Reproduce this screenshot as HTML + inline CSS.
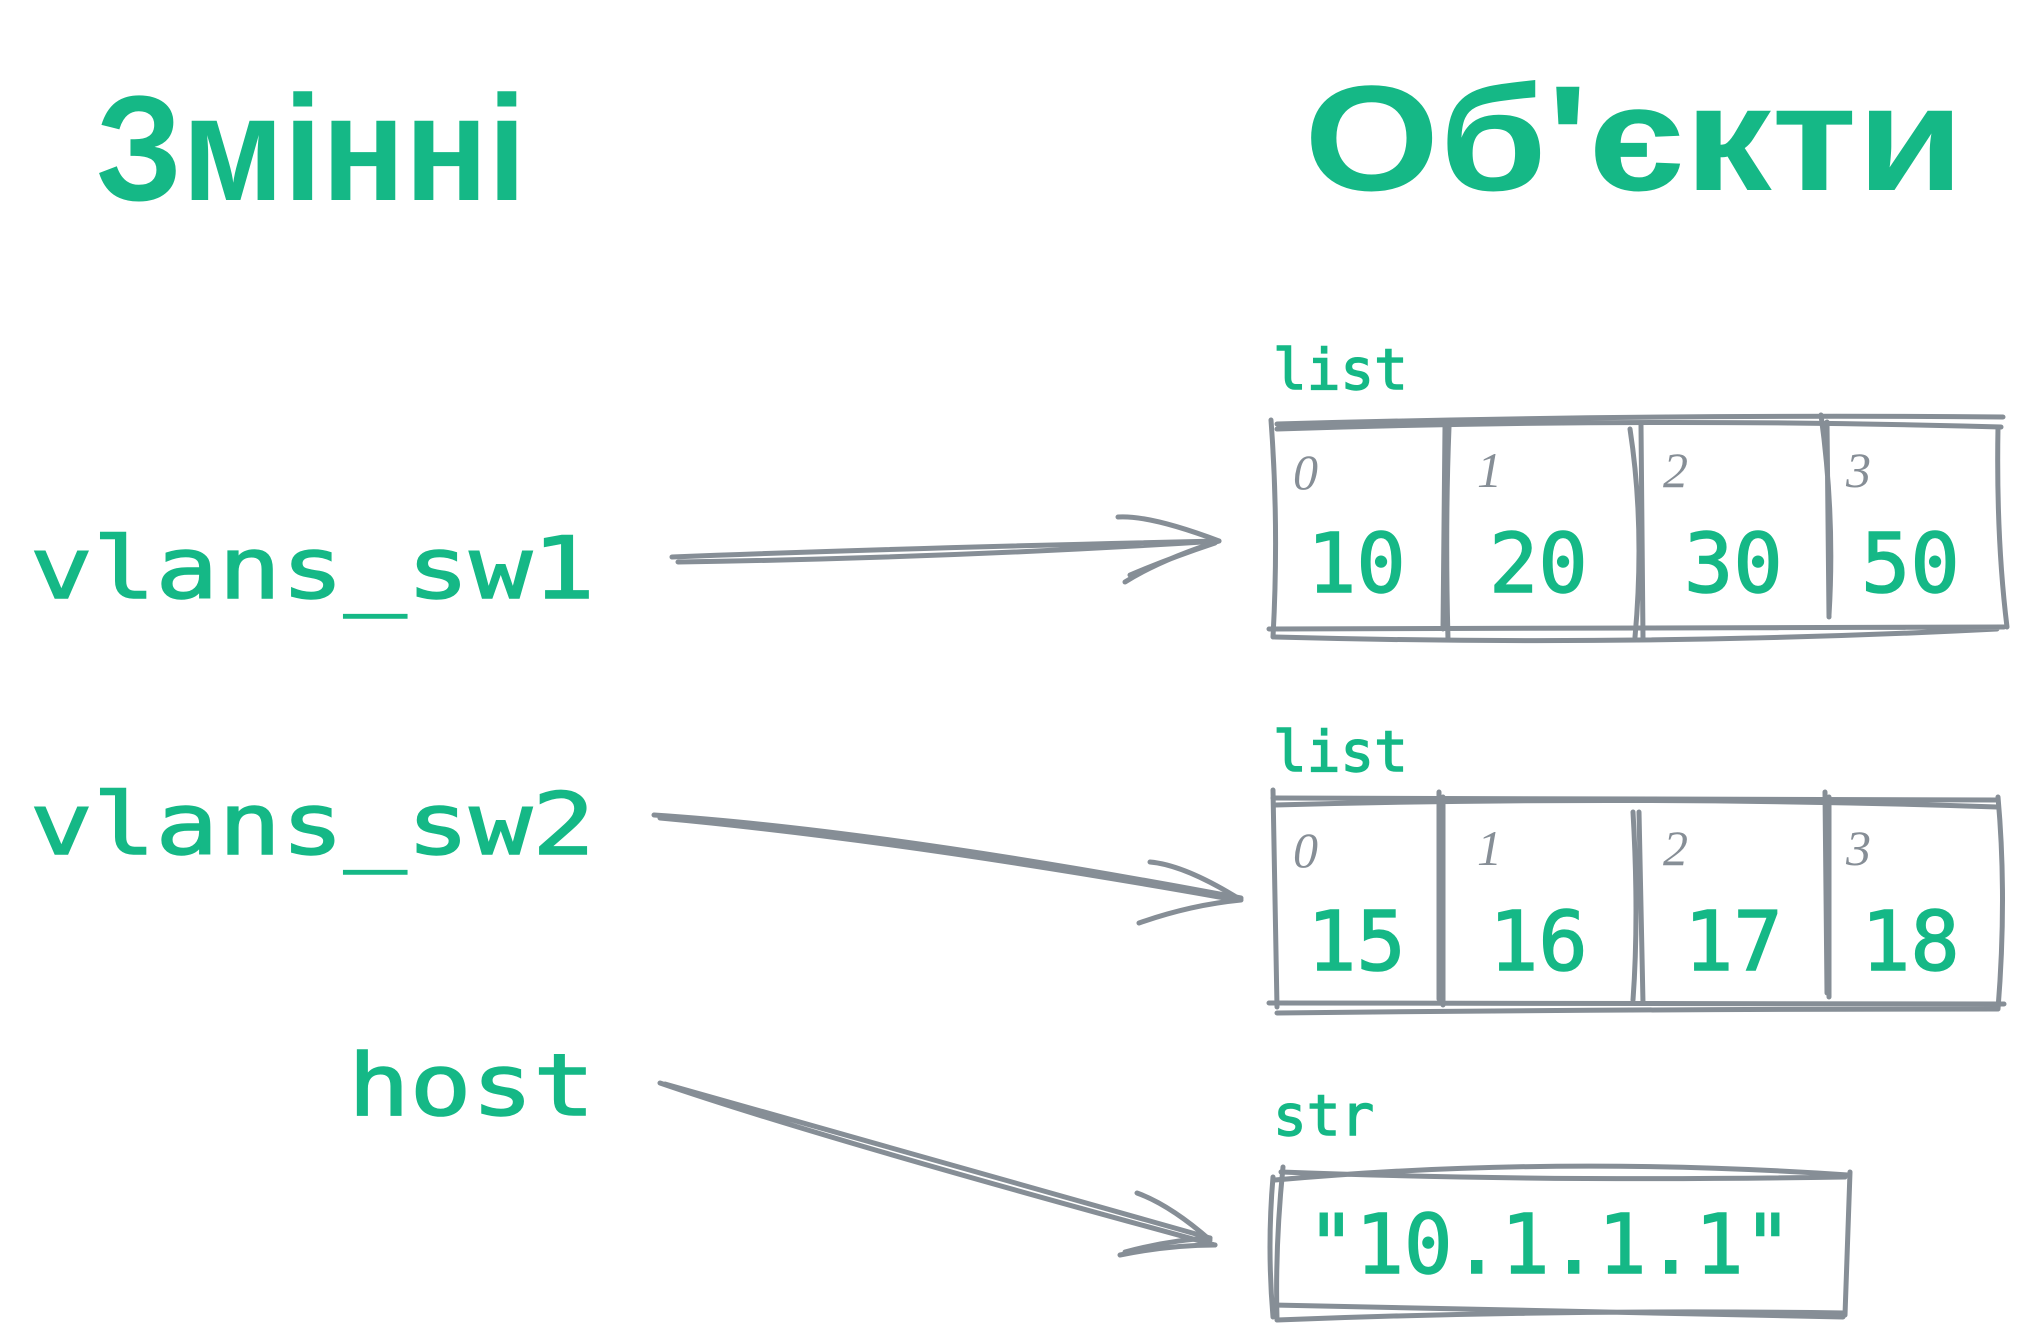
<!DOCTYPE html>
<html><head><meta charset="utf-8"><style>
html,body{margin:0;padding:0;background:#fff;}
svg{display:block;}
.g{fill:#15b886;font-family:"DejaVu Sans Mono","Liberation Mono",monospace;stroke:#15b886;stroke-width:1.5;}
.h{fill:#15b886;font-family:"Liberation Sans",sans-serif;font-weight:bold;}
.i{fill:#868e96;font-family:"Liberation Serif",serif;font-style:italic;font-size:50px;}
path,line,rect{stroke:#868e96;stroke-width:5;fill:none;stroke-linecap:round;}
</style></head><body>
<svg width="2027" height="1335" viewBox="0 0 2027 1335" xmlns="http://www.w3.org/2000/svg">
<text class="h" x="96" y="200" font-size="150" textLength="430" lengthAdjust="spacingAndGlyphs">Змінні</text>
<text class="h" x="1304" y="190" font-size="150" textLength="660" lengthAdjust="spacingAndGlyphs">Об'єкти</text>

<text class="g" x="30" y="598" font-size="86" textLength="565" lengthAdjust="spacingAndGlyphs">vlans_sw1</text>
<text class="g" x="30" y="854" font-size="86" textLength="565" lengthAdjust="spacingAndGlyphs">vlans_sw2</text>
<text class="g" x="348" y="1115" font-size="86" textLength="247" lengthAdjust="spacingAndGlyphs">host</text>

<g transform="translate(-7,-3)">
<!-- box 1 -->
<text class="g" x="1280" y="392" font-size="56">list</text>
<path d="M1284 427 Q1650 417 2010 420 M1284 432 Q1650 420 2008 430"/>
<path d="M1276 632 L2011 630 M1282 640 Q1650 650 2004 632"/>
<path d="M1278 423 Q1286 530 1280 640 M2005 430 Q2003 540 2014 630"/>
<path d="M1452 430 L1450 632 M1456 430 Q1452 530 1455 642"/>
<path d="M1637 432 Q1652 530 1642 640 M1648 428 L1650 642"/>
<path d="M1828 418 Q1842 520 1836 618 M1834 425 L1836 620"/>
<text class="i" x="1300" y="492">0</text><text class="i" x="1484" y="490">1</text><text class="i" x="1670" y="490">2</text><text class="i" x="1853" y="490">3</text>
<text class="g" x="1314" y="595" font-size="82">10</text>
<text class="g" x="1496" y="595" font-size="82">20</text>
<text class="g" x="1691" y="595" font-size="82">30</text>
<text class="g" x="1868" y="595" font-size="82">50</text>

<!-- box 2 -->
<text class="g" x="1280" y="774" font-size="56">list</text>
<path d="M1280 801 L2003 803 M1282 808 Q1650 798 2004 810"/>
<path d="M1276 1006 L2011 1007 M1284 1016 Q1650 1012 2004 1012"/>
<path d="M1280 793 Q1282 920 1284 1010 M2005 800 Q2014 900 2005 1012"/>
<path d="M1446 795 L1446 1002 M1450 800 L1450 1008"/>
<path d="M1640 815 Q1646 920 1640 1003 M1646 815 L1650 1006"/>
<path d="M1832 795 L1834 996 M1836 800 L1836 1000"/>
<text class="i" x="1300" y="870">0</text><text class="i" x="1484" y="868">1</text><text class="i" x="1670" y="868">2</text><text class="i" x="1853" y="868">3</text>
<text class="g" x="1314" y="973" font-size="82">15</text>
<text class="g" x="1496" y="973" font-size="82">16</text>
<text class="g" x="1691" y="973" font-size="82">17</text>
<text class="g" x="1868" y="973" font-size="82">18</text>

<!-- box 3 -->
<text class="g" x="1280" y="1138" font-size="56">str</text>
<path d="M1282 1183 Q1560 1158 1855 1178 M1288 1175 Q1550 1185 1852 1180"/>
<path d="M1280 1308 Q1560 1314 1850 1320 M1284 1323 Q1560 1312 1852 1316"/>
<path d="M1280 1180 Q1274 1250 1280 1320 M1290 1170 Q1282 1250 1284 1322"/>
<path d="M1857 1175 L1852 1318"/>
<text class="g" x="1314" y="1276" font-size="82" textLength="485" lengthAdjust="spacingAndGlyphs">"10.1.1.1"</text>
</g>

<!-- arrows -->
<path d="M672 557 Q900 548 1219 541 M678 562 Q950 558 1219 541"/>
<path d="M1118 517 Q1150 515 1219 541 M1125 582 Q1160 560 1219 541 M1130 575 Q1170 558 1215 543"/>
<path d="M654 815 Q880 830 1241 898 M660 818 Q900 840 1236 900"/>
<path d="M1150 862 Q1185 865 1241 900 M1139 923 Q1190 905 1241 900"/>
<path d="M660 1083 Q820 1138 1215 1245 M665 1084 Q900 1150 1210 1238"/>
<path d="M1137 1193 Q1170 1205 1210 1240 M1120 1255 Q1170 1245 1215 1245 M1125 1252 Q1170 1240 1210 1238"/>
</svg>
</body></html>
